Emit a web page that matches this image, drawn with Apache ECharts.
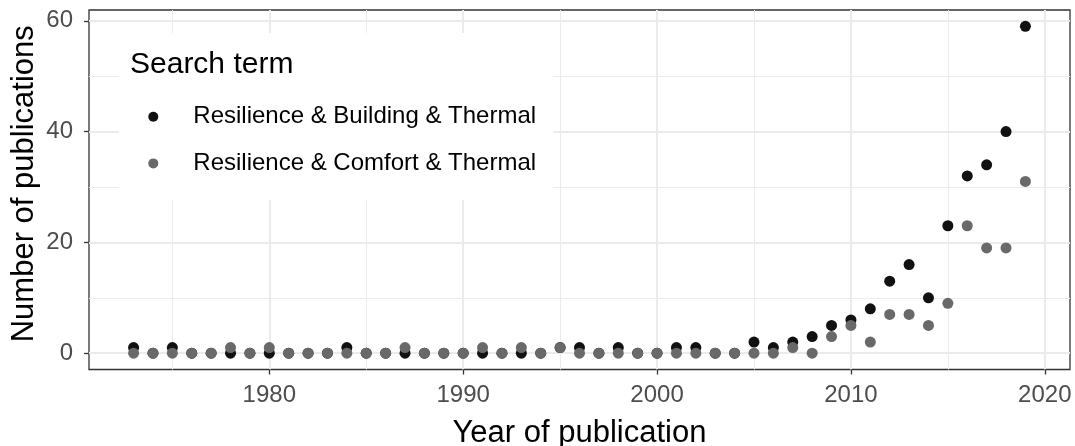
<!DOCTYPE html>
<html><head><meta charset="utf-8">
<script src="https://cdn.jsdelivr.net/npm/echarts@6/dist/echarts.min.js"></script>
<style>html,body{margin:0;padding:0;background:#fff}#c{width:1075px;height:446px}</style>
</head><body><div id="c"></div>
<script>
const years = [1973,1974,1975,1976,1977,1978,1979,1980,1981,1982,1983,1984,1985,1986,1987,1988,1989,1990,1991,1992,1993,1994,1995,1996,1997,1998,1999,2000,2001,2002,2003,2004,2005,2006,2007,2008,2009,2010,2011,2012,2013,2014,2015,2016,2017,2018,2019];
const buildingCounts = [1,0,1,0,0,0,0,0,0,0,0,1,0,0,0,0,0,0,0,0,0,0,1,1,0,1,0,0,1,1,0,0,2,1,2,3,5,6,8,13,16,10,23,32,34,40,59];
const comfortCounts  = [0,0,0,0,0,1,0,1,0,0,0,0,0,0,1,0,0,0,1,0,1,0,1,0,0,0,0,0,0,0,0,0,0,0,1,0,3,5,2,7,7,5,9,23,19,19,31];
const seriesNames = ['Resilience & Building & Thermal', 'Resilience & Comfort & Thermal'];
const legendTitle = 'Search term';
const xTitle = 'Year of publication';
const yTitle = 'Number of publications';
const xMajorTicks = [1980, 1990, 2000, 2010, 2020];
const xMinorTicks = [1975, 1985, 1995, 2005, 2015];
const yMajorTicks = [0, 20, 40, 60];
const yMinorTicks = [10, 30, 50];

const FONT = "'Liberation Sans', Arial, sans-serif";
const xSpan = years[years.length - 1] - years[0];
const xMin = years[0] - 0.05 * xSpan, xMax = years[years.length - 1] + 0.05 * xSpan;
const allY = buildingCounts.concat(comfortCounts);
const yLo = Math.min(...allY), yHi = Math.max(...allY);
const yMin = yLo - 0.05 * (yHi - yLo), yMax = yHi + 0.05 * (yHi - yLo);

const chart = echarts.init(document.getElementById('c'), null, {renderer: 'canvas'});
const gridLine = (w) => ({show: true, lineStyle: {color: '#ebebeb', width: w}});
const plain = (v) => String(Math.round(v));
chart.setOption({
  animation: false,
  backgroundColor: '#fff',
  textStyle: {fontFamily: FONT},
  grid: {left: 89, top: 10, width: 981, height: 359.5, show: true, borderColor: '#333', borderWidth: 1.3,
    containLabel: false, outerBoundsMode: 'none'},
  title: {text: legendTitle, left: 130, top: 50, padding: 0, z: 10,
    textStyle: {fontSize: 30, fontWeight: 'normal', color: '#000', fontFamily: FONT}},
  legend: {
    orient: 'vertical', left: 119, top: 33, padding: [71.7, 17, 24.7, 29.3],
    backgroundColor: '#fff', itemWidth: 10, itemHeight: 10, itemGap: 22.7,
    textStyle: {fontSize: 24, lineHeight: 24, color: '#000', fontFamily: FONT, padding: [0, 0, 0, 30]},
    data: seriesNames.map(n => ({name: n, icon: 'circle'})),
    selectedMode: false
  },
  xAxis: [
    {type: 'value', min: xMin, max: xMax, position: 'bottom',
      axisLine: {show: false, onZero: false},
      axisTick: {show: true, inside: false, length: 5, lineStyle: {color: '#333', width: 1.3}, customValues: xMajorTicks},
      axisLabel: {customValues: xMajorTicks, formatter: plain, fontSize: 24, color: '#4d4d4d', margin: 14, fontFamily: FONT},
      splitLine: gridLine(2),
      name: xTitle, nameLocation: 'middle', nameGap: 48, nameMoveOverlap: false,
      nameTextStyle: {fontSize: 31, color: '#000', fontFamily: FONT}},
    {type: 'value', min: xMin, max: xMax, position: 'bottom',
      axisLine: {show: false, onZero: false}, axisTick: {show: false, customValues: xMinorTicks},
      axisLabel: {show: false, customValues: xMinorTicks}, splitLine: gridLine(1)}
  ],
  yAxis: [
    {type: 'value', min: yMin, max: yMax, position: 'left',
      axisLine: {show: false, onZero: false},
      axisTick: {show: true, inside: false, length: 5, lineStyle: {color: '#333', width: 1.3}, customValues: yMajorTicks},
      axisLabel: {customValues: yMajorTicks, formatter: plain, fontSize: 24, color: '#4d4d4d', margin: 16, fontFamily: FONT},
      splitLine: gridLine(2),
      name: yTitle, nameLocation: 'middle', nameGap: 49, nameRotate: 90, nameMoveOverlap: false,
      nameTextStyle: {fontSize: 31, color: '#000', fontFamily: FONT, padding: [0, 0, 0, 12]}},
    {type: 'value', min: yMin, max: yMax, position: 'left',
      axisLine: {show: false, onZero: false}, axisTick: {show: false, customValues: yMinorTicks},
      axisLabel: {show: false, customValues: yMinorTicks}, splitLine: gridLine(1)}
  ],
  series: [
    {name: seriesNames[0], type: 'scatter', xAxisIndex: 0, yAxisIndex: 0, symbol: 'circle', symbolSize: 11,
      itemStyle: {color: '#111111', opacity: 1}, emphasis: {disabled: true},
      data: years.map((y, i) => [y, buildingCounts[i]])},
    {name: seriesNames[1], type: 'scatter', xAxisIndex: 0, yAxisIndex: 0, symbol: 'circle', symbolSize: 11,
      itemStyle: {color: '#696969', opacity: 1}, emphasis: {disabled: true},
      data: years.map((y, i) => [y, comfortCounts[i]])}
  ]
});
</script></body></html>
